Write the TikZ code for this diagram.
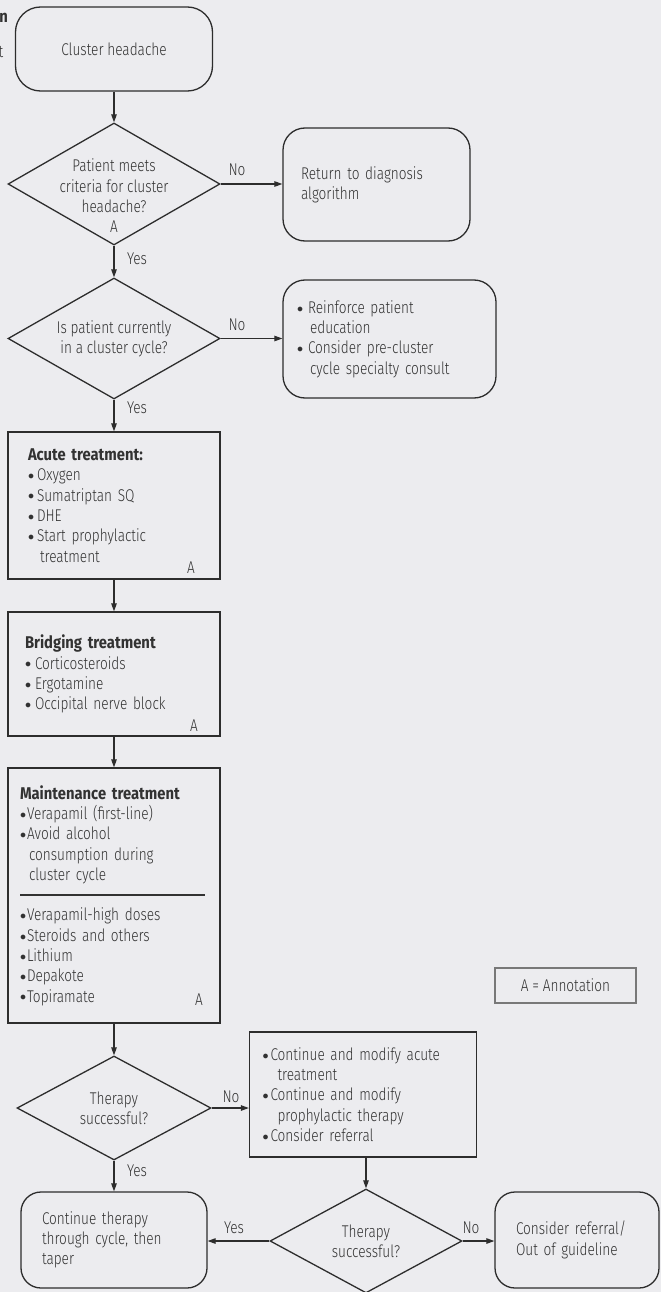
\documentclass[tikz,border=0pt]{standalone}
\usepackage{fontspec}
\setmainfont{Fira Sans}[UprightFont=* Light, BoldFont=* Bold, UprightFeatures={FakeStretch=0.8}, BoldFeatures={FakeStretch=0.87}]
\usetikzlibrary{shapes.geometric,arrows.meta}
\definecolor{bg}{RGB}{236,236,239}
\definecolor{ln}{RGB}{45,45,45}
\definecolor{tx}{RGB}{50,50,50}
\definecolor{ang}{RGB}{120,120,120}
\newcommand\fs{\fontsize{17}{20.3}\selectfont}
\newcommand\bl[1][9pt]{\makebox[#1][l]{\raisebox{1.2pt}{\scalebox{0.7}{$\bullet$}}}}
\begin{document}
\begin{tikzpicture}[x=1pt,y=-1pt,
  every node/.style={text=tx, font=\fs, inner sep=0pt},
  rbox/.style={draw=ln, line width=1.3pt, rounded corners=22pt, align=left},
  sbox/.style={draw=ln, line width=1.3pt, align=left},
  dia/.style={draw=ln, line width=1.3pt, diamond},
  arr/.style={draw=ln, line width=1.1pt, -{Triangle[length=8pt,width=5.5pt]}}]
\useasboundingbox[fill=bg] (0,0) rectangle (661,1292);

\node[font=\fs\bfseries, anchor=east] (frag1) at (8,18) {n};
\node[anchor=east] (frag2) at (3.5,52) {t};

\node[rbox, rounded corners=25pt, minimum width=197pt, minimum height=84pt, align=center] (ch) at (114,49) {Cluster headache};

\node[dia, minimum width=212pt, minimum height=122pt] (d1) at (114,184) {};
\node[align=center] (d1t) at (114,196) {Patient meets\\criteria for cluster\\headache?\\A};

\node[rbox, minimum height=113pt, text width=151pt, inner xsep=18pt] (ret) at (376.5,184.5) {Return to diagnosis\\algorithm};

\node[dia, minimum width=212pt, minimum height=121pt] (d2) at (114,338.5) {};
\node[align=center] (d2t) at (114,339) {Is patient currently\\in a cluster cycle?};

\node[rbox, minimum height=118pt, text width=185pt, inner xsep=14pt] (rein) at (389.5,339) {\bl[11pt]Reinforce patient\\\hspace*{13pt}education\\\bl[11pt]Consider pre-cluster\\\hspace*{13pt}cycle specialty consult};

\node[sbox, minimum height=147pt, text width=172pt, inner xsep=20pt] (acute) at (114,505.5) {\textbf{Acute treatment:}\\\bl Oxygen\\\bl Sumatriptan SQ\\\bl DHE\\\bl Start prophylactic\\\hspace*{12pt}treatment};
\node (aA) at (191,568) {A};

\node[sbox, minimum height=124pt, text width=178pt, inner xsep=17pt] (bridge) at (114,674) {\textbf{Bridging treatment}\\\bl[10pt]Corticosteroids\\\bl[10pt]Ergotamine\\\bl[10pt]Occipital nerve block};
\node (bA) at (194,726) {A};

\node[sbox, minimum height=255pt, text width=188pt, inner xsep=12pt] (maint) at (114,895.5) {\textbf{Maintenance treatment}\\\bl[7pt]Verapamil (first-line)\\\bl[7pt]Avoid alcohol\\\hspace*{9pt}consumption during\\\hspace*{9pt}cluster cycle\\\rule[4.5pt]{185pt}{1.7pt}\\\bl[7pt]Verapamil-high doses\\\bl[7pt]Steroids and others\\\bl[7pt]Lithium\\\bl[7pt]Depakote\\\bl[7pt]Topiramate};
\node (mA) at (199,1000) {A};

\node[draw=ang, line width=1.8pt, minimum width=141pt, minimum height=35pt] (ann) at (565.5,985.5) {A = Annotation};

\node[dia, minimum width=194pt, minimum height=104pt] (d3) at (114,1108) {};
\node[align=center] (d3t) at (114,1108.5) {Therapy\\successful?};

\node[sbox, minimum height=125pt, text width=201pt, inner xsep=13pt] (cm) at (363,1094.5) {\bl[8pt]Continue and modify acute\\\hspace*{15pt}treatment\\\bl[8pt]Continue and modify\\\hspace*{15pt}prophylactic therapy\\\bl[8pt]Consider referral};

\node[dia, minimum width=192pt, minimum height=104pt] (d4) at (366,1241) {};
\node[align=center] (d4t) at (366,1241.5) {Therapy\\successful?};

\node[rbox, rounded corners=20pt, minimum height=96pt, text width=144pt, inner xsep=21pt] (ct) at (114,1240) {Continue therapy\\through cycle, then\\taper};
\node[rbox, rounded corners=20pt, minimum height=96pt, text width=122pt, inner xsep=21pt] (cr) at (577,1240) {Consider referral/\\Out of guideline};

\draw[arr] (ch.south) -- (d1.north);
\draw[arr] (d1.east) -- (d1.east -| ret.west);
\node (no1) at (237,170) {No};
\draw[arr] (d1.south) -- (d2.north);
\node (yes1) at (137,259) {Yes};
\draw[arr] (d2.east) -- (d2.east -| rein.west);
\node (no2) at (237,325) {No};
\draw[arr] (d2.south) -- (acute.north);
\node (yes2) at (137,408) {Yes};
\draw[arr] (acute.south) -- (bridge.north);
\draw[arr] (bridge.south) -- (maint.north);
\draw[arr] (maint.south) -- (d3.north);
\draw[arr] (d3.east) -- (d3.east -| cm.west);
\node (no3) at (231,1097) {No};
\draw[arr] (d3.south) -- (d3.south |- ct.north);
\node (yes3) at (137,1171) {Yes};
\draw[arr] (cm.south -| d4.north) -- (d4.north);
\draw[arr] (d4.west) -- (d4.west -| ct.east);
\node (yes4) at (234,1228) {Yes};
\draw[arr] (d4.east) -- (d4.east -| cr.west);
\node (no4) at (471,1228) {No};
\end{tikzpicture}
\end{document}
